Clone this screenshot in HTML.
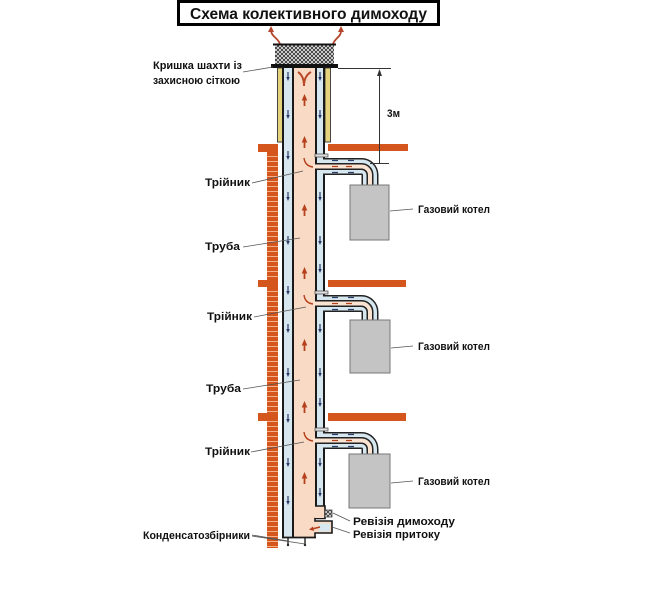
<!DOCTYPE html>
<html><head><meta charset="utf-8">
<style>
html,body{margin:0;padding:0;background:#fff}
svg{display:block}
text{font-family:"Liberation Sans",sans-serif;font-weight:bold;fill:#111}
</style></head>
<body>
<svg width="650" height="600" viewBox="0 0 650 600" xmlns="http://www.w3.org/2000/svg">
<defs>
<pattern id="mesh" width="4" height="4" patternUnits="userSpaceOnUse">
<rect width="4" height="4" fill="#eee"/>
<path d="M0 0L4 4M4 0L0 4" stroke="#333" stroke-width="0.9"/>
</pattern>
<pattern id="brick" width="12" height="5" patternUnits="userSpaceOnUse" x="0" y="152">
<rect width="12" height="5" fill="#d5561d"/>
<rect y="4" width="12" height="1" fill="#f3b08a"/>
</pattern>
<g id="da"><path d="M0 -4V2" stroke="#2b3d6b" stroke-width="1.2"/><path d="M-1.8 1L1.8 1L0 5Z" fill="#2b3d6b"/></g>
<g id="ua"><path d="M0 0V6" stroke="#b5401c" stroke-width="1.8"/><path d="M-2.8 0.5L2.8 0.5L0 -6Z" fill="#b5401c"/></g>
</defs>

<!-- Title -->
<rect x="178.5" y="1.5" width="260" height="23" fill="#fff" stroke="#000" stroke-width="3"/>
<text x="190" y="19" font-size="16" textLength="237" lengthAdjust="spacingAndGlyphs">Схема колективного димоходу</text>

<!-- cap arrows -->
<path d="M280 44C278 38 272 37 271 31" fill="none" stroke="#b5452a" stroke-width="1.8"/>
<path d="M268 32L274 32L271 26Z" fill="#b5452a"/>
<path d="M333 44C335 38 341 37 341 31" fill="none" stroke="#b5452a" stroke-width="1.8"/>
<path d="M338 32L344 32L341 26Z" fill="#b5452a"/>

<!-- cap -->
<rect x="275" y="45" width="59" height="19" fill="url(#mesh)"/>
<line x1="273" y1="44.5" x2="336" y2="44.5" stroke="#111" stroke-width="2"/>
<rect x="271" y="64" width="67" height="4" fill="#111"/>

<!-- bricks -->
<rect x="267" y="152" width="11" height="396" fill="url(#brick)"/>
<rect x="258" y="144" width="20" height="8" fill="#d5561d"/>
<rect x="258" y="280" width="20" height="7" fill="#d5561d"/>
<rect x="258" y="413" width="20" height="8" fill="#d5561d"/>
<rect x="328" y="144" width="80" height="7" fill="#d5561d"/>
<rect x="328" y="280" width="78" height="7" fill="#d5561d"/>
<rect x="328" y="413" width="78" height="8" fill="#d5561d"/>

<!-- yellow insulation -->
<rect x="277.5" y="68" width="5" height="74" fill="#e5d47c" stroke="#333" stroke-width="0.9"/>
<rect x="325" y="68" width="5.5" height="74" fill="#e5d47c" stroke="#333" stroke-width="0.9"/>

<!-- main pipe -->
<rect x="282" y="68" width="2" height="470" fill="#1a1a1a"/>
<rect x="284" y="68" width="8" height="469" fill="#d6e7ef"/>
<rect x="292" y="68" width="2" height="469" fill="#1a1a1a"/>
<rect x="294" y="68" width="21" height="469" fill="#f9dbc5"/>
<rect x="315" y="68" width="2" height="439" fill="#1a1a1a"/>
<rect x="317" y="68" width="6" height="439" fill="#d6e7ef"/>
<rect x="323" y="68" width="2" height="439" fill="#1a1a1a"/>

<!-- bottom revisions -->
<path d="M315 506H325V518.5H315V521H332V533H315V537" fill="#f9dbc5" stroke="#1a1a1a" stroke-width="1.6"/>
<rect x="315" y="507" width="9" height="11" fill="#f9dbc5"/>
<rect x="315" y="522" width="16" height="10" fill="#f9dbc5"/>
<rect x="319" y="523.5" width="11" height="8" fill="#d6e7ef"/>
<rect x="325" y="510" width="7" height="7" fill="url(#mesh)" stroke="#444" stroke-width="0.8"/>
<path d="M320 527L312 529" stroke="#b5401c" stroke-width="1.5"/>
<path d="M313 526.5L309 529.5L314 531Z" fill="#b5401c"/>
<line x1="282" y1="537.5" x2="316" y2="537.5" stroke="#1a1a1a" stroke-width="1.8"/>
<!-- condensate -->
<path d="M288 538V544M305 538V544" stroke="#222" stroke-width="1.4"/>
<circle cx="288" cy="545" r="1.2" fill="#222"/><circle cx="305" cy="545" r="1.2" fill="#222"/>

<!-- branches -->
<g fill="none">
<path d="M323 166.5H361.5A8.5 8.5 0 0 1 370 175V186" stroke="#222" stroke-width="17"/>
<path d="M317 166.5H361.5A8.5 8.5 0 0 1 370 175V186" stroke="#d6e7ef" stroke-width="14"/>
<path d="M316 166.5H361.5A8.5 8.5 0 0 1 370 175V186" stroke="#222" stroke-width="7"/>
<path d="M313 166.5H361.5A8.5 8.5 0 0 1 370 175V186" stroke="#fbe3d2" stroke-width="4"/>

<path d="M323 303.5H361.5A8.5 8.5 0 0 1 370 312V321" stroke="#222" stroke-width="17"/>
<path d="M317 303.5H361.5A8.5 8.5 0 0 1 370 312V321" stroke="#d6e7ef" stroke-width="14"/>
<path d="M316 303.5H361.5A8.5 8.5 0 0 1 370 312V321" stroke="#222" stroke-width="7"/>
<path d="M313 303.5H361.5A8.5 8.5 0 0 1 370 312V321" stroke="#fbe3d2" stroke-width="4"/>

<path d="M323 440.5H361.5A8.5 8.5 0 0 1 370 449V454" stroke="#222" stroke-width="17"/>
<path d="M317 440.5H361.5A8.5 8.5 0 0 1 370 449V454" stroke="#d6e7ef" stroke-width="14"/>
<path d="M316 440.5H361.5A8.5 8.5 0 0 1 370 449V454" stroke="#222" stroke-width="7"/>
<path d="M313 440.5H361.5A8.5 8.5 0 0 1 370 449V454" stroke="#fbe3d2" stroke-width="4"/>
</g>
<!-- branch small arrows -->
<g stroke-width="1.2">
<path d="M332 166.5h6M346 166.5h6" stroke="#b5401c"/>
<path d="M332 160.5h6M348 160.5h6M332 172.5h6M348 172.5h6" stroke="#2b3d6b"/>
<path d="M332 303.5h6M346 303.5h6" stroke="#b5401c"/>
<path d="M332 297.5h6M348 297.5h6M332 309.5h6M348 309.5h6" stroke="#2b3d6b"/>
<path d="M332 440.5h6M346 440.5h6" stroke="#b5401c"/>
<path d="M332 434.5h6M348 434.5h6M332 446.5h6M348 446.5h6" stroke="#2b3d6b"/>
</g>
<!-- brackets -->
<rect x="315" y="154" width="13" height="3" fill="#ddd" stroke="#444" stroke-width="0.7"/>
<rect x="315" y="291" width="13" height="3" fill="#ddd" stroke="#444" stroke-width="0.7"/>
<rect x="315" y="428" width="13" height="3" fill="#ddd" stroke="#444" stroke-width="0.7"/>

<!-- tee curved arrows -->
<g fill="none" stroke="#b5401c" stroke-width="1.4">
<path d="M304 158Q305 166 313 167"/>
<path d="M304 295Q305 303 313 304"/>
<path d="M304 432Q305 440 313 441"/>
</g>

<!-- boilers -->
<rect x="350" y="185" width="39" height="55" fill="#c4c4c4" stroke="#777" stroke-width="1"/>
<rect x="350" y="320" width="40" height="53" fill="#c4c4c4" stroke="#777" stroke-width="1"/>
<rect x="349" y="454" width="41" height="54" fill="#c4c4c4" stroke="#777" stroke-width="1"/>

<!-- top V arrow -->
<path d="M304 86Q304 76 298 72M304 86Q304 76 311 72" fill="none" stroke="#b84a2a" stroke-width="2"/>

<!-- flow arrows -->
<use href="#da" x="288" y="76"/><use href="#da" x="288" y="114"/><use href="#da" x="288" y="155"/>
<use href="#da" x="288" y="196"/><use href="#da" x="288" y="240"/><use href="#da" x="288" y="290"/>
<use href="#da" x="288" y="328"/><use href="#da" x="288" y="372"/><use href="#da" x="288" y="418"/>
<use href="#da" x="288" y="462"/><use href="#da" x="288" y="500"/>
<use href="#da" x="320" y="76"/><use href="#da" x="320" y="114"/><use href="#da" x="320" y="196"/>
<use href="#da" x="320" y="240"/><use href="#da" x="320" y="268"/><use href="#da" x="320" y="328"/>
<use href="#da" x="320" y="372"/><use href="#da" x="320" y="402"/><use href="#da" x="320" y="462"/>
<use href="#da" x="320" y="492"/>
<use href="#ua" x="304.5" y="100"/><use href="#ua" x="304.5" y="142"/><use href="#ua" x="304.5" y="210"/>
<use href="#ua" x="304.5" y="273"/><use href="#ua" x="304.5" y="345"/><use href="#ua" x="304.5" y="407"/>
<use href="#ua" x="304.5" y="478"/>

<!-- dimension 3m -->
<g stroke="#333" stroke-width="1">
<line x1="338" y1="68.5" x2="391" y2="68.5"/>
<line x1="379.5" y1="72" x2="379.5" y2="163"/>
<line x1="370" y1="163.5" x2="389" y2="163.5"/>
</g>
<path d="M377 76L382 76L379.5 69Z" fill="#333"/>
<text x="387" y="117" font-size="11" textLength="13" lengthAdjust="spacingAndGlyphs">3м</text>

<!-- leader lines -->
<g stroke="#555" stroke-width="0.8">
<line x1="243" y1="72" x2="273" y2="67"/>
<line x1="252" y1="183" x2="303" y2="171"/>
<line x1="243" y1="247" x2="300" y2="238"/>
<line x1="254" y1="317" x2="306" y2="307"/>
<line x1="243" y1="389" x2="300" y2="380"/>
<line x1="251" y1="452" x2="304" y2="442"/>
<line x1="390" y1="211" x2="413" y2="209"/>
<line x1="391" y1="348" x2="413" y2="346"/>
<line x1="391" y1="483" x2="413" y2="481"/>
<line x1="350" y1="521" x2="333" y2="513"/>
<line x1="350" y1="533" x2="332" y2="527"/>
<line x1="252" y1="535" x2="288" y2="541"/>
<line x1="252" y1="536" x2="305" y2="544"/>
</g>

<!-- labels -->
<g font-size="11">
<text x="153" y="69" textLength="89" lengthAdjust="spacingAndGlyphs">Кришка шахти із</text>
<text x="153" y="84" textLength="87" lengthAdjust="spacingAndGlyphs">захисною сіткою</text>
<text x="205" y="186" textLength="45" lengthAdjust="spacingAndGlyphs">Трійник</text>
<text x="205" y="250" textLength="35" lengthAdjust="spacingAndGlyphs">Труба</text>
<text x="207" y="320" textLength="45" lengthAdjust="spacingAndGlyphs">Трійник</text>
<text x="206" y="392" textLength="35" lengthAdjust="spacingAndGlyphs">Труба</text>
<text x="205" y="455" textLength="45" lengthAdjust="spacingAndGlyphs">Трійник</text>
<text x="418" y="213" textLength="72" lengthAdjust="spacingAndGlyphs">Газовий котел</text>
<text x="418" y="350" textLength="72" lengthAdjust="spacingAndGlyphs">Газовий котел</text>
<text x="418" y="485" textLength="72" lengthAdjust="spacingAndGlyphs">Газовий котел</text>
<text x="353" y="525" textLength="102" lengthAdjust="spacingAndGlyphs">Ревізія димоходу</text>
<text x="353" y="538" textLength="87" lengthAdjust="spacingAndGlyphs">Ревізія притоку</text>
<text x="143" y="539" textLength="107" lengthAdjust="spacingAndGlyphs">Конденсатозбірники</text>
</g>
</svg>
</body></html>
